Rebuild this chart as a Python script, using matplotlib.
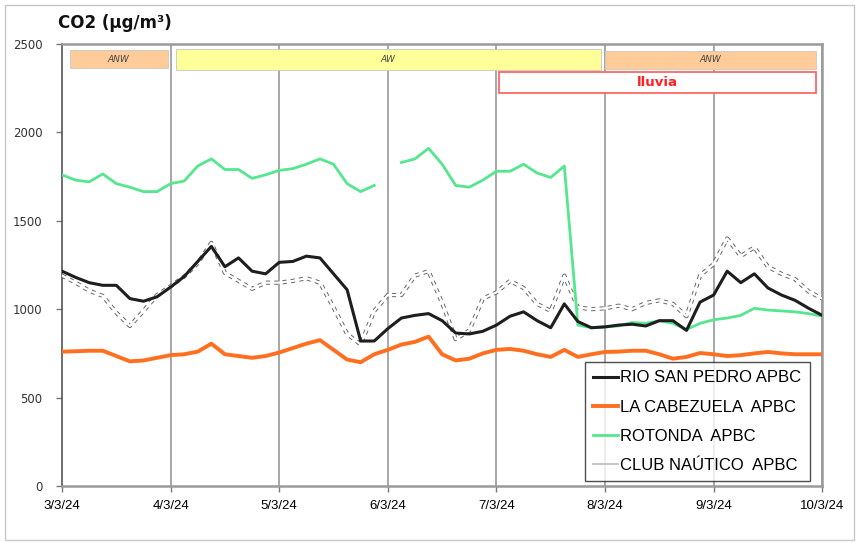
import numpy as np
import matplotlib
matplotlib.use('Agg')
import matplotlib.pyplot as plt
from matplotlib.patches import Rectangle

# ---------------- data (3-hourly readings, 3/3/24 00h -> 10/3/24 00h) ----------------
day_labels = ['3/3/24', '4/3/24', '5/3/24', '6/3/24', '7/3/24', '8/3/24', '9/3/24', '10/3/24']
hours = np.arange(0, 169, 3)

rio_san_pedro = [1215, 1180, 1150, 1135, 1135, 1060, 1045, 1070,
                 1125, 1185, 1270, 1355, 1240, 1290, 1215, 1200,
                 1265, 1270, 1300, 1290, 1200, 1110, 820, 820,
                 890, 950, 965, 975, 935, 865, 860, 875,
                 910, 960, 985, 935, 895, 1030, 930, 895,
                 900, 910, 915, 905, 935, 935, 880, 1040,
                 1080, 1215, 1150, 1200, 1120, 1080, 1050, 1005,
                 965]

la_cabezuela = [760, 762, 765, 765, 735, 705, 710, 725,
                740, 745, 760, 805, 745, 735, 725, 735,
                755, 780, 805, 825, 770, 715, 700, 745,
                770, 800, 815, 845, 745, 710, 720, 750,
                770, 775, 765, 745, 730, 770, 730, 745,
                758, 760, 765, 765, 745, 720, 730, 752,
                745, 735, 740, 750, 758, 750, 745, 745,
                745]

rotonda = [1760, 1730, 1720, 1765, 1710, 1690, 1665, 1665,
           1710, 1725, 1810, 1850, 1790, 1790, 1740, 1760,
           1785, 1795, 1820, 1850, 1820, 1710, 1665, 1700,
           np.nan, 1830, 1850, 1910, 1820, 1700, 1690, 1730,
           1780, 1780, 1820, 1770, 1745, 1810, 910, 895,
           900, 905, 925, 920, 935, 920, 885, 920,
           940, 950, 965, 1005, 995, 990, 985, 975,
           960]

club_nautico = [1190, 1150, 1105, 1075, 980, 905, 990, 1080,
                1130, 1185, 1260, 1375, 1205, 1160, 1115, 1150,
                1150, 1160, 1175, 1150, 1010, 860, 800, 990,
                1080, 1080, 1190, 1215, 1035, 830, 880, 1060,
                1095, 1160, 1120, 1030, 990, 1190, 1010, 1000,
                1005, 1020, 1000, 1035, 1050, 1030, 960, 1190,
                1255, 1400, 1300, 1350, 1240, 1200, 1170, 1100,
                1060]

x = hours / 24.0

# ---------------- plot ----------------
fig = plt.figure(figsize=(8.59, 5.43), dpi=100)
ax = fig.add_axes([0.0722, 0.105, 0.885, 0.814])

for d in range(1, 8):
    ax.axvline(d, color='#a0a0a0', linewidth=1.3, zorder=1)

l1, = ax.plot(x, rio_san_pedro, color='#1e1e1e', linewidth=2.2, zorder=5, label='RIO SAN PEDRO APBC')
l2, = ax.plot(x, la_cabezuela, color='#ff6f1f', linewidth=2.8, zorder=4, label='LA CABEZUELA  APBC')
l3, = ax.plot(x, rotonda, color='#55e68f', linewidth=2.0, zorder=4, label='ROTONDA  APBC')
ax.plot(x, club_nautico, color='#666666', linewidth=3.0, linestyle=(0, (1, 1)), zorder=3)
l4, = ax.plot(x, club_nautico, color='white', linewidth=1.6, zorder=3, label='CLUB NAÚTICO  APBC')

# period bands
ax.add_patch(Rectangle((0.07, 2365), 0.91, 100, facecolor='#ffcc99', edgecolor='#c8c8c8', lw=0.6, zorder=6))
ax.add_patch(Rectangle((1.05, 2355), 3.91, 115, facecolor='#ffff99', edgecolor='#c8c8c8', lw=0.6, zorder=6))
ax.add_patch(Rectangle((5.0, 2360), 1.94, 100, facecolor='#ffcc99', edgecolor='#c8c8c8', lw=0.6, zorder=6))
ax.add_patch(Rectangle((4.02, 2225), 2.92, 115, facecolor='white', edgecolor='#ff6666', lw=1.3, zorder=6))
ax.text(0.52, 2415, 'ANW', fontsize=6.5, style='italic', color='#444444', ha='center', va='center', zorder=7)
ax.text(3.0, 2415, 'AW', fontsize=6.5, style='italic', color='#444444', ha='center', va='center', zorder=7)
ax.text(5.97, 2410, 'ANW', fontsize=6.5, style='italic', color='#444444', ha='center', va='center', zorder=7)
ax.text(5.48, 2282, 'lluvia', fontsize=9.5, fontweight='bold', color='#ff2020', ha='center', va='center', zorder=7)

ax.set_xlim(0, 7)
ax.set_ylim(0, 2500)
ax.set_xticks(range(8))
ax.set_xticklabels(day_labels, fontsize=9.5, family=['Liberation Sans Narrow', 'Liberation Sans'])
ax.set_yticks(range(0, 2501, 500))
ax.set_yticklabels([str(v) for v in range(0, 2501, 500)], fontsize=8.5, color='#333333')
ax.tick_params(axis='x', length=4, width=1, color='#777777', pad=6)
ax.tick_params(axis='y', length=4, width=1, color='#777777', pad=10)

for s in ['top', 'right', 'bottom']:
    ax.spines[s].set_color('#9a9a9a')
    ax.spines[s].set_linewidth(1.8)
ax.spines['left'].set_color('#555555')
ax.spines['left'].set_linewidth(1.2)

fig.text(0.067, 0.957, 'CO2 (µg/m³)', fontsize=12, fontweight='bold', color='#111111', ha='left', va='center')

leg = ax.legend(handles=[l1, l2, l3, l4], loc='upper left', bbox_to_anchor=(0.688, 0.2805),
                frameon=True, fancybox=False, edgecolor='#222222', borderaxespad=0,
                handlelength=1.5, handletextpad=0.1, borderpad=0.5, labelspacing=0.85,
                prop={'family': ['Liberation Sans Narrow', 'Liberation Sans'], 'size': 12})
leg.get_frame().set_linewidth(1.0)
leg.set_zorder(8)
leg.get_lines()[3].set_color('#bbbbbb')
leg.get_lines()[3].set_linewidth(1.2)

fig.add_artist(Rectangle((0.006, 0.006), 0.988, 0.984, transform=fig.transFigure,
                         fill=False, edgecolor='#c8c8c8', linewidth=1.0))

plt.savefig('out.png', dpi=100)
